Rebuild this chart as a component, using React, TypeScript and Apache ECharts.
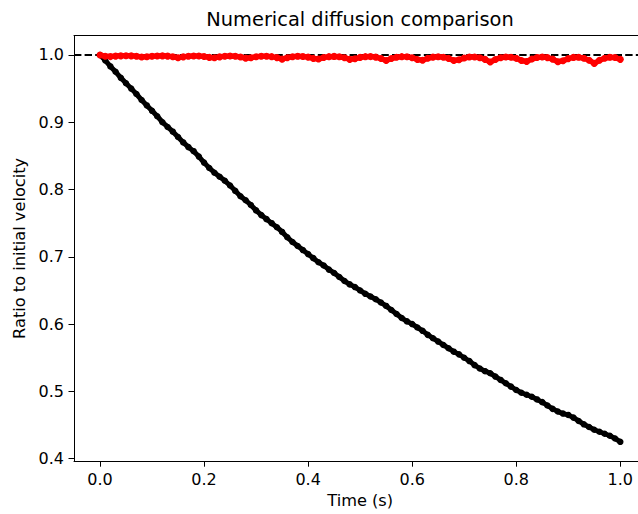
import React, { useEffect, useRef } from "react";
import * as echarts from "echarts";

const title = "Numerical diffusion comparison";
const xName = "Time (s)";
const yName = "Ratio to initial velocity";
const xTicks = [0, 0.2, 0.4, 0.6, 0.8, 1.0];
const yTicks = [0.4, 0.5, 0.6, 0.7, 0.8, 0.9, 1.0];
const timeStep = 0.01;
const referenceLevel = 1.0;

// Black series: velocity ratio with numerical diffusion
const diffusive = [
  1.000, 0.992, 0.983, 0.975, 0.966, 0.958, 0.950, 0.942, 0.933, 0.925,
  0.917, 0.909, 0.900, 0.893, 0.886, 0.878, 0.870, 0.863, 0.857, 0.849,
  0.840, 0.832, 0.825, 0.819, 0.813, 0.806, 0.798, 0.790, 0.784, 0.777,
  0.769, 0.762, 0.756, 0.750, 0.744, 0.737, 0.729, 0.722, 0.716, 0.710,
  0.704, 0.698, 0.692, 0.687, 0.681, 0.676, 0.670, 0.664, 0.659, 0.655,
  0.650, 0.645, 0.641, 0.637, 0.632, 0.627, 0.621, 0.615, 0.609, 0.604,
  0.600, 0.595, 0.590, 0.584, 0.579, 0.574, 0.569, 0.564, 0.559, 0.555,
  0.550, 0.545, 0.539, 0.534, 0.530, 0.527, 0.522, 0.517, 0.512, 0.507,
  0.502, 0.498, 0.495, 0.492, 0.488, 0.484, 0.479, 0.474, 0.470, 0.467,
  0.465, 0.461, 0.456, 0.451, 0.447, 0.443, 0.440, 0.437, 0.434, 0.430,
  0.425,
];

// Red series: velocity ratio with low diffusion
const conservative = [
  1.0000, 0.9980, 0.9976, 0.9983, 0.9987, 0.9989, 0.9987, 0.9981, 0.9971, 0.9974,
  0.9982, 0.9986, 0.9987, 0.9983, 0.9974, 0.9959, 0.9972, 0.9981, 0.9985, 0.9984,
  0.9977, 0.9964, 0.9958, 0.9972, 0.9981, 0.9984, 0.9980, 0.9970, 0.9953, 0.9958,
  0.9973, 0.9981, 0.9982, 0.9975, 0.9961, 0.9938, 0.9960, 0.9974, 0.9980, 0.9978,
  0.9968, 0.9949, 0.9940, 0.9962, 0.9975, 0.9979, 0.9974, 0.9959, 0.9935, 0.9943,
  0.9964, 0.9975, 0.9976, 0.9968, 0.9948, 0.9917, 0.9947, 0.9966, 0.9975, 0.9973,
  0.9959, 0.9934, 0.9922, 0.9951, 0.9968, 0.9974, 0.9967, 0.9949, 0.9917, 0.9928,
  0.9955, 0.9969, 0.9971, 0.9960, 0.9935, 0.9896, 0.9934, 0.9959, 0.9970, 0.9967,
  0.9950, 0.9919, 0.9904, 0.9940, 0.9962, 0.9969, 0.9961, 0.9938, 0.9899, 0.9913,
  0.9946, 0.9964, 0.9966, 0.9952, 0.9922, 0.9875, 0.9921, 0.9951, 0.9965, 0.9962,
  0.9935,
];

const FONT = "DejaVu Sans";
const TICK_FONT = 16;
const LABEL_FONT = 16.2;
const TITLE_FONT = 19.4;

export default function App() {
  const ref = useRef<HTMLDivElement>(null);

  useEffect(() => {
    if (!ref.current) return;
    const chart = echarts.init(ref.current, undefined, { renderer: "svg" });
    const toPairs = (vals: number[]) =>
      vals.map((v, i) => [Number((i * timeStep).toFixed(2)), v]);

    const spine = { show: true, onZero: false, lineStyle: { color: "#000", width: 1 } };

    chart.setOption({
      animation: false,
      backgroundColor: "#fff",
      title: {
        text: title,
        left: "center",
        top: 10,
        padding: 0,
        textStyle: {
          fontFamily: FONT,
          fontSize: TITLE_FONT,
          fontWeight: "normal",
          color: "#000",
        },
      },
      grid: {
        left: 74,
        top: 35.6,
        width: 572.3,
        height: 425.6,
        show: false,
      },
      xAxis: [
        {
          type: "value",
          min: -0.05,
          max: 1.05,
          name: xName,
          nameLocation: "middle",
          nameGap: 29,
          nameTextStyle: { fontFamily: FONT, fontSize: LABEL_FONT, color: "#000" },
          splitLine: { show: false },
          axisLine: spine,
          axisTick: {
            show: true,
            customValues: xTicks,
            length: 5.5,
            lineStyle: { color: "#000", width: 1 },
          },
          axisLabel: {
            customValues: xTicks,
            margin: 10,
            fontFamily: FONT,
            fontSize: TICK_FONT,
            color: "#000",
            formatter: (v: number) => v.toFixed(1),
          },
        },
        {
          type: "value",
          position: "top",
          min: -0.05,
          max: 1.05,
          splitLine: { show: false },
          axisLine: spine,
          axisTick: { show: false },
          axisLabel: { show: false },
        },
      ],
      yAxis: {
        type: "value",
        min: 0.3962,
        max: 1.0288,
        name: yName,
        nameLocation: "middle",
        nameRotate: 90,
        nameGap: 38,
        nameTextStyle: { fontFamily: FONT, fontSize: LABEL_FONT, color: "#000" },
        splitLine: { show: false },
        axisLine: spine,
        axisTick: {
          show: true,
          customValues: yTicks,
          length: 5.5,
          lineStyle: { color: "#000", width: 1 },
        },
        axisLabel: {
          customValues: yTicks,
          margin: 10,
          fontFamily: FONT,
          fontSize: TICK_FONT,
          color: "#000",
          formatter: (v: number) => v.toFixed(1),
        },
      },
      series: [
        {
          type: "line",
          data: [
            [-0.05, referenceLevel],
            [1.05, referenceLevel],
          ],
          showSymbol: false,
          symbol: "none",
          lineStyle: { color: "#000", width: 2, type: [7.4, 3.2] },
          z: 1,
          silent: true,
        },
        {
          type: "line",
          data: toPairs(diffusive),
          symbol: "circle",
          symbolSize: 6.5,
          showSymbol: true,
          itemStyle: { color: "#000", borderWidth: 0 },
          lineStyle: { color: "#000", width: 5 },
          z: 2,
          silent: true,
        },
        {
          type: "line",
          data: toPairs(conservative),
          symbol: "circle",
          symbolSize: 7,
          showSymbol: true,
          itemStyle: { color: "#ff0000", borderWidth: 0 },
          lineStyle: { color: "#ff0000", width: 5.5 },
          z: 3,
          silent: true,
        },
      ],
    });

    return () => chart.dispose();
  }, []);

  return (
    <div
      style={{
        position: "fixed",
        left: 0,
        top: 0,
        width: 638,
        height: 514,
        overflow: "hidden",
        background: "#fff",
      }}
    >
      <div ref={ref} style={{ width: 720, height: 514 }} />
    </div>
  );
}
